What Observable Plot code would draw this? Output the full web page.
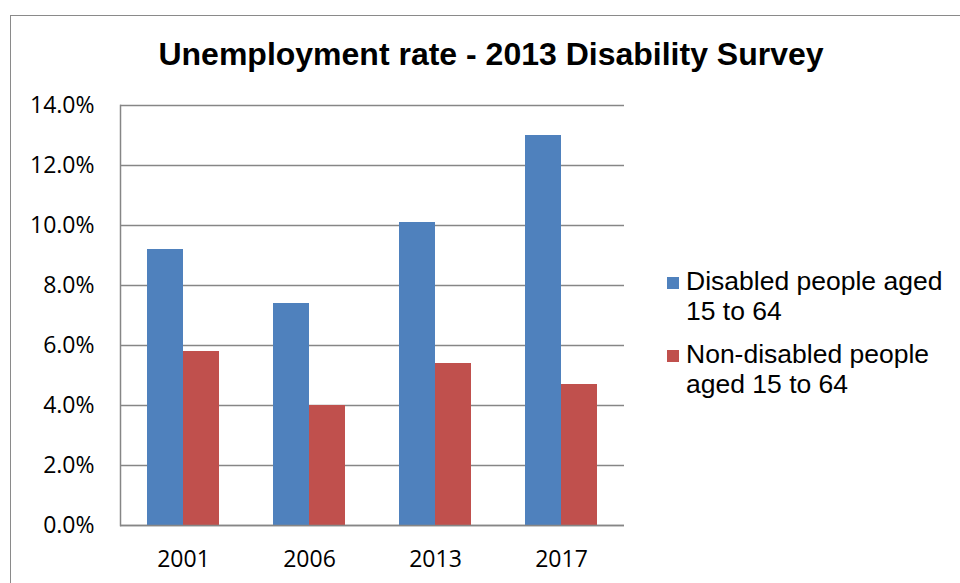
<!DOCTYPE html>
<html>
<head>
<meta charset="utf-8">
<script src="https://cdn.jsdelivr.net/npm/d3@7"></script>
<script src="https://cdn.jsdelivr.net/npm/@observablehq/plot@0.6"></script>
<style>
  html, body { margin: 0; padding: 0; background: #fff; overflow: hidden; }
  #wrap { position: relative; width: 960px; height: 583px; overflow: hidden; }
  #border { position: absolute; left: 10px; top: 15px; width: 980px; height: 620px; border: 1.5px solid #8a8a8a; box-sizing: border-box; }
  #title { position: absolute; left: 0; width: 982px; top: 38px; text-align: center; font-family: "Liberation Sans", Arial, sans-serif; font-weight: bold; font-size: 32px; line-height: 32px; color: #000; white-space: nowrap; }
  #chart { position: absolute; left: 0; top: 0; }
  .lg { position: absolute; left: 686px; width: 270px; font-family: "Liberation Sans", Arial, sans-serif; font-size: 26.5px; line-height: 30px; color: #000; }
  .sw { position: absolute; left: 667px; width: 12px; height: 12px; }
</style>
</head>
<body>
<div id="wrap">
  <div id="border"></div>
  <div id="title"></div>
  <div id="chart"></div>
</div>
<script>
const chartTitle = "Unemployment rate - 2013 Disability Survey";
const years = ["2001", "2006", "2013", "2017"];
const seriesNames = ["Disabled people aged 15 to 64", "Non-disabled people aged 15 to 64"];
const disabled = [9.2, 7.4, 10.1, 13.0];
const nonDisabled = [5.8, 4.0, 5.4, 4.7];
const yTicks = [0, 2, 4, 6, 8, 10, 12, 14];
const colors = ["#4F81BD", "#C0504D"];

const rows = [];
years.forEach((y, i) => {
  rows.push({year: y, series: seriesNames[0], value: disabled[i]});
  rows.push({year: y, series: seriesNames[1], value: nonDisabled[i]});
});

document.getElementById("title").textContent = chartTitle;

const gray = "#868686";
const chart = Plot.plot({
  width: 960,
  height: 583,
  marginLeft: 119,
  marginRight: 336,
  marginTop: 105,
  marginBottom: 58,
  style: {fontFamily: "'Open Sans', sans-serif", fontSize: "23px", color: "#000", background: "transparent", overflow: "visible"},
  fx: {domain: years, padding: 0},
  x: {domain: seriesNames, paddingInner: 0, paddingOuter: 0.75, axis: null},
  y: {domain: [0, 14]},
  color: {domain: seriesNames, range: colors},
  marks: [
    Plot.ruleY(yTicks, {stroke: gray, strokeWidth: 1.5}),
    Plot.barY(rows, {fx: "year", x: "series", y: "value", fill: "series"}),
    Plot.ruleY([0], {stroke: gray, strokeWidth: 1.5}),
    Plot.frame({anchor: "left", facetAnchor: "left", stroke: gray, strokeWidth: 1.5}),
    Plot.axisY({ticks: yTicks, tickFormat: d => d.toFixed(1) + "%", tickSize: 0, tickPadding: 26, label: null}),
    Plot.axisFx({anchor: "bottom", tickSize: 0, tickPadding: 25, label: null})
  ]
});
document.getElementById("chart").appendChild(chart);

// legend
const wrap = document.getElementById("wrap");
const legendTops = [266, 339];
seriesNames.forEach((name, i) => {
  const sw = document.createElement("div");
  sw.className = "sw";
  sw.style.top = (legendTops[i] + 11) + "px";
  sw.style.background = colors[i];
  wrap.appendChild(sw);
  const t = document.createElement("div");
  t.className = "lg";
  t.style.top = legendTops[i] + "px";
  t.textContent = name;
  wrap.appendChild(t);
});
</script>
</body>
</html>
